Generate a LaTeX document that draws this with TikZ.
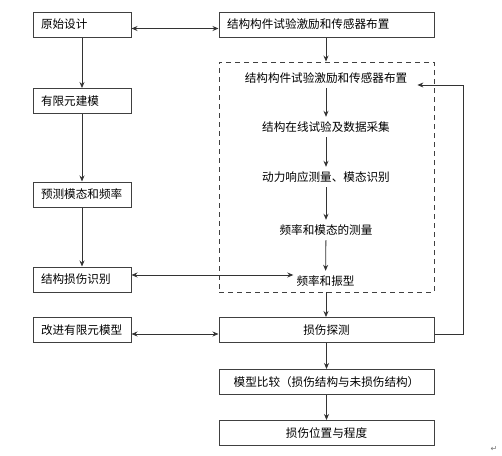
\documentclass[tikz,border=0pt]{standalone}
\usepackage{fontspec}
\setmainfont{Noto Sans CJK SC}
\newfontfamily\symfont{DejaVu Sans}
\usetikzlibrary{arrows.meta,calc}
\begin{document}
\begin{tikzpicture}[x=1pt,y=-1pt,
  font=\fontsize{11.6pt}{13pt}\selectfont,
  box/.style={draw=black!75,line width=1pt,minimum height=25pt,inner sep=0pt},
  lbox/.style={box,text width=82pt,align=left,inner xsep=8pt},
  rbox/.style={box,minimum width=215pt},
  txt/.style={inner ysep=0pt,minimum height=20pt,inner xsep=2pt},
  frame/.style={draw=black!75,line width=0.9pt,dash pattern=on 5pt off 4pt,minimum width=215pt,minimum height=230pt,inner sep=0pt},
  arr/.style={draw=black!80,line width=0.8pt,-{Stealth[length=6pt,width=5pt]}},
  dbl/.style={draw=black!80,line width=0.8pt,{Stealth[length=6pt,width=5pt]}-{Stealth[length=6pt,width=5pt]}}]
\useasboundingbox (0,0) rectangle (502,455);
% left column
\node[lbox] (orig) at (82,24.5) {原始设计};
\node[lbox] (fem) at (82,101) {有限元建模};
\node[lbox] (pred) at (82,194.5) {预测模态和频率};
\node[lbox] (ident) at (82,279.5) {结构损伤识别};
\node[lbox] (impr) at (82,330) {改进有限元模型};
% right column
\node[rbox,text width=199pt,align=left,inner xsep=8pt] (layout) at (326.5,24.5) {结构构件试验激励和传感器布置};
\node[frame] (frm) at (326.5,177) {};
\node[txt] (t1) at (326,78) {结构构件试验激励和传感器布置};
\node[txt] (t2) at (326,127) {结构在线试验及数据采集};
\node[txt] (t3) at (326,177) {动力响应测量、模态识别};
\node[txt] (t4) at (326,230) {频率和模态的测量};
\node[txt,inner xsep=3pt] (t5) at (325.5,281) {频率和振型};
\node[rbox] (det) at (326.5,330) {损伤探测};
\node[rbox] (cmp) at (326.5,382) {模型比较（损伤结构与未损伤结构）};
\node[rbox] (loc) at (326.5,433) {损伤位置与程度};
\node[text=black!55,font=\symfont\fontsize{8pt}{8pt}\selectfont] (pm) at (494,449) {↵};
% left arrows
\draw[arr] (orig) -- (fem);
\draw[arr] (fem) -- (pred);
\draw[arr] (pred) -- (ident);
% horizontal double arrows
\draw[dbl] ([yshift=-4pt]orig.east) -- ([yshift=-4pt]orig.east -| layout.west);
\draw[dbl] ([yshift=4.5pt]ident.east) -- ([yshift=4.5pt]ident.east -| t5.west);
\draw[dbl] ([yshift=-4pt]impr.east) -- ([yshift=-4pt]impr.east -| det.west);
% right arrows
\draw[arr] (layout.south -| t1) -- (t1 |- frm.north);
\draw[arr] (t1) -- (t2);
\draw[arr] (t2) -- (t3);
\draw[arr] (t3) -- (t4);
\draw[arr] (t4) -- (t5);
\draw[arr] (frm.south -| t1) -- (det.north -| t1);
\draw[arr] (det) -- (cmp);
\draw[arr] (cmp) -- (loc);
% feedback loop
\draw[arr] ([yshift=-4pt]det.east) -- ++(29,0) |- ([xshift=8pt,yshift=-7pt]t1.east);
\end{tikzpicture}
\end{document}
